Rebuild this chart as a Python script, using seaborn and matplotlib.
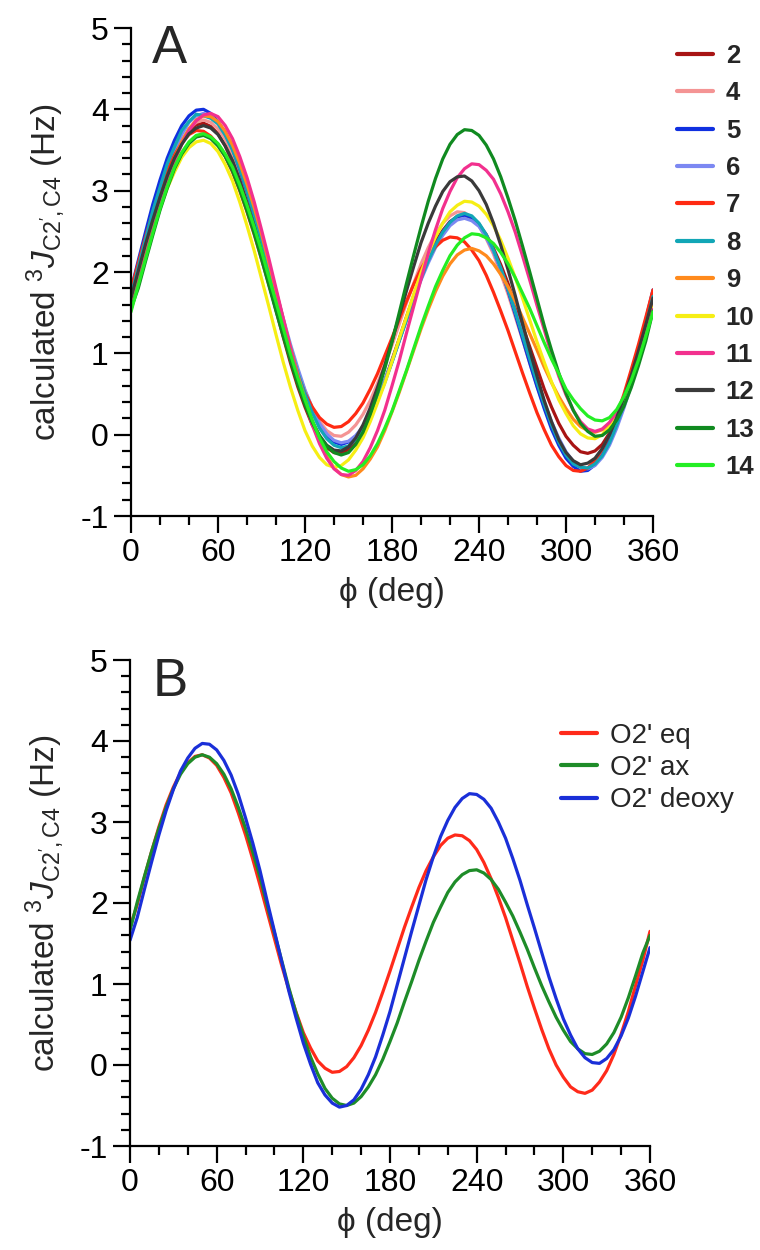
import numpy as np
import pandas as pd
import matplotlib
matplotlib.use("Agg")
import matplotlib.pyplot as plt
import seaborn as sns
from matplotlib.ticker import MultipleLocator

# ---------------- data (every 5 deg) ----------------
phi = list(range(0, 361, 5))

series_a = ["2", "4", "5", "6", "7", "8", "9", "10", "11", "12", "13", "14"]
j_2 = [1.72, 2.00, 2.34, 2.66, 2.95, 3.21, 3.44, 3.61, 3.74, 3.81,
       3.83, 3.79, 3.70, 3.55, 3.35, 3.11, 2.83, 2.53, 2.21, 1.87,
       1.53, 1.20, 0.88, 0.59, 0.34, 0.12, -0.04, -0.16, -0.22, -0.23,
       -0.18, -0.09, 0.04, 0.22, 0.43, 0.66, 0.92, 1.18, 1.45, 1.71,
       1.96, 2.17, 2.37, 2.51, 2.62, 2.68, 2.70, 2.66, 2.58, 2.46,
       2.29, 2.09, 1.86, 1.60, 1.34, 1.08, 0.82, 0.56, 0.34, 0.14,
       -0.02, -0.13, -0.21, -0.23, -0.20, -0.12, 0.02, 0.20, 0.44, 0.71,
       1.00, 1.33, 1.70]
j_4 = [1.63, 1.97, 2.32, 2.63, 2.94, 3.21, 3.45, 3.62, 3.76, 3.84,
       3.87, 3.84, 3.76, 3.63, 3.45, 3.22, 2.95, 2.66, 2.35, 2.03,
       1.69, 1.38, 1.07, 0.79, 0.54, 0.33, 0.16, 0.05, -0.01, -0.02,
       0.03, 0.12, 0.25, 0.42, 0.63, 0.86, 1.10, 1.36, 1.62, 1.86,
       2.10, 2.30, 2.47, 2.60, 2.69, 2.74, 2.73, 2.67, 2.57, 2.41,
       2.22, 1.98, 1.73, 1.45, 1.17, 0.88, 0.60, 0.34, 0.11, -0.08,
       -0.24, -0.34, -0.40, -0.41, -0.35, -0.25, -0.10, 0.11, 0.35, 0.64,
       0.95, 1.28, 1.63]
j_5 = [1.78, 2.14, 2.49, 2.83, 3.13, 3.40, 3.62, 3.80, 3.92, 3.99,
       4.00, 3.95, 3.85, 3.70, 3.51, 3.26, 2.99, 2.69, 2.37, 2.04,
       1.71, 1.38, 1.07, 0.77, 0.52, 0.30, 0.12, -0.01, -0.09, -0.12,
       -0.09, -0.02, 0.09, 0.25, 0.44, 0.66, 0.90, 1.16, 1.42, 1.67,
       1.92, 2.14, 2.33, 2.49, 2.61, 2.68, 2.70, 2.67, 2.59, 2.44,
       2.26, 2.03, 1.77, 1.48, 1.18, 0.88, 0.59, 0.32, 0.07, -0.13,
       -0.29, -0.39, -0.45, -0.44, -0.37, -0.25, -0.08, 0.16, 0.42, 0.72,
       1.06, 1.41, 1.78]
j_6 = [1.62, 1.98, 2.33, 2.67, 2.98, 3.26, 3.50, 3.69, 3.84, 3.92,
       3.95, 3.92, 3.84, 3.71, 3.52, 3.30, 3.03, 2.73, 2.42, 2.10,
       1.76, 1.43, 1.11, 0.82, 0.55, 0.33, 0.14, 0.01, -0.07, -0.10,
       -0.08, -0.01, 0.10, 0.26, 0.45, 0.67, 0.90, 1.16, 1.41, 1.66,
       1.90, 2.11, 2.30, 2.45, 2.57, 2.64, 2.66, 2.63, 2.56, 2.42,
       2.25, 2.03, 1.79, 1.52, 1.24, 0.95, 0.67, 0.40, 0.16, -0.04,
       -0.21, -0.33, -0.40, -0.42, -0.38, -0.28, -0.13, 0.08, 0.33, 0.61,
       0.93, 1.27, 1.62]
j_7 = [1.78, 2.11, 2.43, 2.73, 3.02, 3.24, 3.44, 3.59, 3.69, 3.74,
       3.73, 3.67, 3.57, 3.42, 3.23, 3.00, 2.74, 2.46, 2.16, 1.85,
       1.55, 1.26, 0.98, 0.74, 0.51, 0.34, 0.21, 0.13, 0.09, 0.10,
       0.16, 0.26, 0.39, 0.56, 0.75, 0.97, 1.19, 1.42, 1.64, 1.85,
       2.04, 2.18, 2.31, 2.39, 2.43, 2.42, 2.37, 2.27, 2.14, 1.96,
       1.75, 1.52, 1.28, 1.02, 0.76, 0.51, 0.27, 0.06, -0.13, -0.27,
       -0.38, -0.44, -0.45, -0.41, -0.32, -0.18, 0.00, 0.24, 0.50, 0.80,
       1.11, 1.44, 1.78]
j_8 = [1.70, 2.06, 2.40, 2.75, 3.04, 3.33, 3.54, 3.74, 3.85, 3.94,
       3.92, 3.89, 3.82, 3.68, 3.50, 3.27, 3.00, 2.70, 2.38, 2.06,
       1.72, 1.38, 1.06, 0.76, 0.50, 0.27, 0.08, -0.05, -0.13, -0.16,
       -0.14, -0.06, 0.05, 0.22, 0.42, 0.64, 0.89, 1.15, 1.41, 1.67,
       1.92, 2.14, 2.33, 2.49, 2.61, 2.69, 2.72, 2.69, 2.60, 2.46,
       2.27, 2.05, 1.79, 1.51, 1.22, 0.93, 0.64, 0.37, 0.12, -0.09,
       -0.25, -0.36, -0.40, -0.41, -0.36, -0.26, -0.10, 0.12, 0.37, 0.66,
       0.98, 1.33, 1.70]
j_9 = [1.58, 1.91, 2.24, 2.56, 2.87, 3.15, 3.40, 3.60, 3.76, 3.87,
       3.92, 3.91, 3.85, 3.73, 3.56, 3.34, 3.08, 2.79, 2.47, 2.12,
       1.77, 1.42, 1.07, 0.74, 0.43, 0.16, -0.08, -0.27, -0.41, -0.49,
       -0.52, -0.50, -0.42, -0.30, -0.15, 0.05, 0.28, 0.52, 0.78, 1.04,
       1.30, 1.54, 1.76, 1.95, 2.10, 2.21, 2.27, 2.29, 2.26, 2.20,
       2.10, 1.97, 1.82, 1.64, 1.44, 1.24, 1.04, 0.83, 0.64, 0.47,
       0.32, 0.19, 0.10, 0.05, 0.03, 0.06, 0.14, 0.28, 0.46, 0.70,
       0.97, 1.26, 1.58]
j_10 = [1.56, 1.88, 2.19, 2.50, 2.78, 3.03, 3.23, 3.41, 3.53, 3.60,
        3.62, 3.58, 3.48, 3.32, 3.12, 2.86, 2.57, 2.26, 1.92, 1.58,
        1.23, 0.89, 0.58, 0.30, 0.05, -0.14, -0.28, -0.37, -0.40, -0.38,
        -0.31, -0.19, -0.04, 0.16, 0.39, 0.63, 0.90, 1.18, 1.45, 1.73,
        1.99, 2.23, 2.43, 2.60, 2.74, 2.82, 2.87, 2.86, 2.81, 2.71,
        2.57, 2.39, 2.17, 1.93, 1.68, 1.41, 1.14, 0.89, 0.65, 0.43,
        0.26, 0.11, 0.01, -0.04, -0.05, 0.00, 0.10, 0.26, 0.45, 0.69,
        0.96, 1.26, 1.56]
j_11 = [1.54, 1.87, 2.19, 2.51, 2.82, 3.10, 3.36, 3.57, 3.74, 3.86,
        3.93, 3.95, 3.91, 3.80, 3.64, 3.42, 3.16, 2.86, 2.52, 2.17,
        1.80, 1.43, 1.06, 0.72, 0.40, 0.12, -0.11, -0.29, -0.42, -0.49,
        -0.50, -0.44, -0.33, -0.16, 0.05, 0.30, 0.60, 0.91, 1.25, 1.58,
        1.91, 2.23, 2.52, 2.78, 2.99, 3.16, 3.27, 3.33, 3.32, 3.25,
        3.14, 2.96, 2.74, 2.49, 2.20, 1.90, 1.59, 1.29, 0.99, 0.72,
        0.49, 0.30, 0.16, 0.07, 0.04, 0.07, 0.15, 0.28, 0.46, 0.68,
        0.94, 1.23, 1.54]
j_12 = [1.68, 2.01, 2.34, 2.64, 2.92, 3.18, 3.40, 3.57, 3.70, 3.77,
        3.80, 3.77, 3.69, 3.55, 3.37, 3.13, 2.85, 2.56, 2.24, 1.90,
        1.56, 1.24, 0.92, 0.63, 0.37, 0.16, -0.01, -0.13, -0.19, -0.20,
        -0.15, -0.04, 0.12, 0.33, 0.58, 0.85, 1.15, 1.46, 1.77, 2.07,
        2.36, 2.60, 2.81, 2.99, 3.11, 3.17, 3.18, 3.12, 3.00, 2.83,
        2.60, 2.33, 2.03, 1.71, 1.37, 1.04, 0.72, 0.42, 0.16, -0.06,
        -0.22, -0.32, -0.37, -0.35, -0.29, -0.17, 0.00, 0.21, 0.46, 0.73,
        1.03, 1.35, 1.68]
j_13 = [1.55, 1.80, 2.13, 2.45, 2.76, 3.03, 3.27, 3.45, 3.58, 3.66,
        3.68, 3.64, 3.55, 3.42, 3.24, 3.01, 2.75, 2.47, 2.16, 1.84,
        1.52, 1.21, 0.91, 0.62, 0.37, 0.15, -0.02, -0.14, -0.22, -0.25,
        -0.22, -0.12, 0.03, 0.25, 0.51, 0.81, 1.14, 1.50, 1.86, 2.21,
        2.55, 2.87, 3.15, 3.39, 3.57, 3.69, 3.75, 3.74, 3.68, 3.56,
        3.39, 3.17, 2.91, 2.63, 2.32, 2.00, 1.67, 1.34, 1.04, 0.76,
        0.51, 0.30, 0.14, 0.04, -0.02, -0.01, 0.06, 0.18, 0.35, 0.58,
        0.85, 1.15, 1.52]
j_14 = [1.51, 1.84, 2.16, 2.48, 2.78, 3.05, 3.29, 3.47, 3.60, 3.68,
        3.70, 3.66, 3.58, 3.45, 3.29, 3.07, 2.82, 2.55, 2.26, 1.94,
        1.63, 1.31, 0.99, 0.70, 0.43, 0.18, -0.04, -0.21, -0.33, -0.41,
        -0.45, -0.43, -0.37, -0.26, -0.11, 0.08, 0.29, 0.54, 0.79, 1.06,
        1.33, 1.58, 1.82, 2.02, 2.20, 2.33, 2.42, 2.47, 2.46, 2.42,
        2.35, 2.24, 2.10, 1.93, 1.74, 1.55, 1.34, 1.13, 0.93, 0.75,
        0.56, 0.43, 0.32, 0.23, 0.18, 0.17, 0.21, 0.31, 0.47, 0.67,
        0.92, 1.21, 1.51]

series_b = ["O2' eq", "O2' ax", "O2' deoxy"]
j_eq = [1.70, 1.98, 2.32, 2.64, 2.94, 3.21, 3.43, 3.61, 3.73, 3.81,
        3.83, 3.79, 3.70, 3.55, 3.36, 3.11, 2.84, 2.54, 2.22, 1.89,
        1.56, 1.23, 0.93, 0.65, 0.40, 0.21, 0.05, -0.04, -0.09, -0.08,
        -0.02, 0.09, 0.24, 0.43, 0.65, 0.90, 1.16, 1.43, 1.70, 1.95,
        2.19, 2.40, 2.57, 2.71, 2.80, 2.84, 2.83, 2.77, 2.66, 2.50,
        2.30, 2.07, 1.82, 1.54, 1.26, 0.97, 0.70, 0.44, 0.20, 0.00,
        -0.15, -0.27, -0.33, -0.35, -0.31, -0.21, -0.07, 0.13, 0.38, 0.66,
        0.98, 1.29, 1.65]
j_ax = [1.66, 2.01, 2.33, 2.64, 2.92, 3.18, 3.41, 3.59, 3.72, 3.80,
        3.83, 3.80, 3.72, 3.59, 3.41, 3.18, 2.92, 2.63, 2.32, 1.97,
        1.63, 1.29, 0.95, 0.64, 0.36, 0.10, -0.11, -0.29, -0.41, -0.48,
        -0.50, -0.47, -0.39, -0.27, -0.12, 0.07, 0.29, 0.52, 0.78, 1.03,
        1.29, 1.53, 1.76, 1.95, 2.13, 2.26, 2.35, 2.40, 2.41, 2.37,
        2.29, 2.17, 2.01, 1.84, 1.64, 1.43, 1.20, 0.98, 0.78, 0.59,
        0.43, 0.29, 0.20, 0.14, 0.13, 0.17, 0.26, 0.40, 0.59, 0.83,
        1.10, 1.38, 1.60]
j_deoxy = [1.54, 1.82, 2.17, 2.51, 2.84, 3.14, 3.40, 3.63, 3.79, 3.91,
           3.97, 3.96, 3.89, 3.76, 3.58, 3.34, 3.05, 2.74, 2.40, 2.02,
           1.65, 1.28, 0.91, 0.58, 0.27, 0.01, -0.22, -0.37, -0.47, -0.52,
           -0.50, -0.43, -0.30, -0.12, 0.10, 0.37, 0.66, 0.99, 1.32, 1.65,
           1.97, 2.29, 2.57, 2.82, 3.02, 3.18, 3.29, 3.35, 3.34, 3.28,
           3.17, 3.00, 2.80, 2.55, 2.28, 1.98, 1.69, 1.39, 1.09, 0.82,
           0.57, 0.37, 0.20, 0.09, 0.03, 0.02, 0.08, 0.19, 0.36, 0.58,
           0.85, 1.15, 1.45]

x_ticks = [0, 60, 120, 180, 240, 300, 360]
y_ticks = [-1, 0, 1, 2, 3, 4, 5]

colors_a = ["#A81414", "#F49494", "#1030E0", "#7C88F2", "#FF2A12", "#12A6B6",
            "#FF8A1C", "#F6EE14", "#F2308E", "#3A3A3A", "#108A20", "#24EE24"]
colors_b = ["#FF2A1A", "#1E8C28", "#1A2FD8"]

# ---------------- tables ----------------
vals_a = [j_2, j_4, j_5, j_6, j_7, j_8, j_9, j_10, j_11, j_12, j_13, j_14]
df_a = pd.DataFrame({
    "phi": np.tile(phi, len(series_a)),
    "J": np.concatenate(vals_a),
    "series": np.repeat(series_a, len(phi)),
})
vals_b = [j_eq, j_ax, j_deoxy]
df_b = pd.DataFrame({
    "phi": np.tile(phi, len(series_b)),
    "J": np.concatenate(vals_b),
    "series": np.repeat(series_b, len(phi)),
})

# ---------------- style ----------------
sns.set_theme(style="ticks")
plt.rcParams["font.family"] = ["Liberation Sans", "DejaVu Sans"]
plt.rcParams["mathtext.fontset"] = "custom"
plt.rcParams["mathtext.rm"] = "Liberation Sans"
plt.rcParams["mathtext.it"] = "Liberation Sans:italic"
plt.rcParams["mathtext.bf"] = "Liberation Sans:bold"
plt.rcParams["axes.unicode_minus"] = False
plt.rcParams["lines.solid_joinstyle"] = "round"

W, H = 760, 1250
fig = plt.figure(figsize=(W / 100, H / 100), dpi=100)

def px_axes(l, r, t, b):
    return fig.add_axes([l / W, 1 - b / H, (r - l) / W, (b - t) / H])

axA = px_axes(131, 653, 28, 516)
axB = px_axes(130, 650, 660, 1146)

ylab = r"calculated $^{3}J_{\mathrm{C2',C4}}$ (Hz)"

for ax, df, order, cols in [(axA, df_a, series_a, colors_a), (axB, df_b, series_b, colors_b)]:
    sns.lineplot(data=df, x="phi", y="J", hue="series", hue_order=order,
                 palette=dict(zip(order, cols)), linewidth=2.3, ax=ax,
                 estimator=None, sort=False)
    ax.set_xlim(0, 360)
    ax.set_ylim(-1, 5)
    ax.set_xticks(x_ticks)
    ax.set_yticks(y_ticks)
    ax.xaxis.set_minor_locator(MultipleLocator(20))
    ax.yaxis.set_minor_locator(MultipleLocator(0.2))
    ax.tick_params(which="major", length=12, width=1.6, labelsize=23, pad=4,
                   color="black", labelcolor="black")
    ax.tick_params(which="minor", length=6.5, width=1.6, color="black")
    sns.despine(ax=ax)
    for s in ["left", "bottom"]:
        ax.spines[s].set_linewidth(1.6)
        ax.spines[s].set_color("black")
    ax.set_xlabel("\u03d5 (deg)", fontsize=24, labelpad=6)
    ax.set_ylabel(ylab, fontsize=24, labelpad=10)
    ax.patch.set_alpha(0)

# legends
h, l = axA.get_legend_handles_labels()
legA = axA.legend(h, l, loc="upper left", bbox_to_anchor=(677 / W, 1 - 44 / H),
                  bbox_transform=fig.transFigure, frameon=False,
                  prop={"weight": "bold", "size": 18.5}, handlelength=1.4,
                  handletextpad=0.5, labelspacing=0.52, borderpad=0, borderaxespad=0)
for ln in legA.get_lines():
    ln.set_linewidth(3.0)

h, l = axB.get_legend_handles_labels()
legB = axB.legend(h, l, loc="upper left", bbox_to_anchor=(561 / W, 1 - 723 / H),
                  bbox_transform=fig.transFigure, frameon=False,
                  prop={"size": 20}, handlelength=1.3,
                  handletextpad=0.45, labelspacing=0.22, borderpad=0, borderaxespad=0)
for ln in legB.get_lines():
    ln.set_linewidth(3.0)

fig.text(152 / W, 1 - 24 / H, "A", fontsize=38, ha="left", va="top")
fig.text(153 / W, 1 - 657 / H, "B", fontsize=38, ha="left", va="top")

fig.savefig("out.png", dpi=100)
